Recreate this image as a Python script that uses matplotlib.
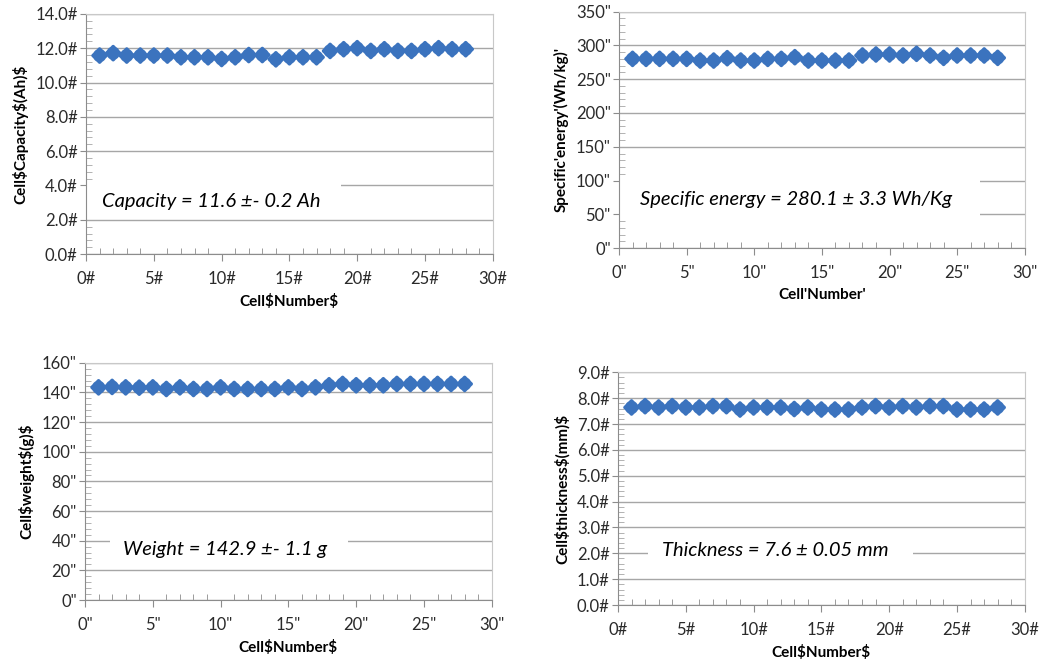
import numpy as np
import matplotlib.pyplot as plt
import matplotlib.patheffects as pe
from matplotlib.patches import Rectangle
from matplotlib.ticker import MultipleLocator, AutoMinorLocator

plt.rcParams['font.family'] = ['Lato', 'DejaVu Sans']

cells = list(range(1, 29))

capacity = [11.57, 11.71, 11.57, 11.57, 11.57, 11.57, 11.47, 11.47, 11.47, 11.37,
            11.47, 11.6, 11.6, 11.35, 11.47, 11.47, 11.47, 11.84, 11.94, 12.0,
            11.84, 11.94, 11.84, 11.84, 11.94, 12.0, 11.94, 11.94]
energy = [280, 280, 280, 280, 280, 277.5, 277.5, 281, 277.5, 277.5,
          280, 280, 282.5, 277.5, 277.5, 277.5, 277.5, 285, 286.5, 286.5,
          285, 287.5, 285, 281.5, 285, 285, 285, 281.5]
weight = [143.4, 143.7, 143.4, 143.2, 143.4, 142.3, 143.4, 142.3, 142.3, 143.4,
          142.3, 142.3, 142.3, 142.3, 143.4, 142.3, 143.4, 144.8, 145.7, 144.8,
          144.8, 144.8, 145.7, 145.7, 145.7, 145.7, 145.7, 145.7]
thickness = [7.64, 7.69, 7.64, 7.69, 7.64, 7.64, 7.69, 7.69, 7.56, 7.64,
             7.64, 7.64, 7.58, 7.64, 7.56, 7.56, 7.56, 7.64, 7.69, 7.64,
             7.69, 7.64, 7.69, 7.69, 7.56, 7.56, 7.56, 7.64]

panels = [
    dict(rect=[0.0825, 0.615, 0.390, 0.364], y=capacity, ymax=14, ystep=2, yfmt='{:.1f}#', xfmt='{}#',
         ylabel='Cell\\$Capacity\\$(Ah)\\$', xlabel='Cell\\$Number\\$',
         note='Capacity = 11.6 ±- 0.2 Ah', note_xy=(0.039, 0.221), box=(0.0, 0.167, 0.627, 0.133)),
    dict(rect=[0.5935, 0.624, 0.389, 0.3585], y=energy, ymax=350, ystep=50, yfmt='{:d}"', xfmt='{}"',
         ylabel="Specific'energy'(Wh/kg)'", xlabel="Cell'Number'",
         note='Specific energy = 280.1 ± 3.3 Wh/Kg', note_xy=(0.052, 0.204), box=(0.0, 0.12, 0.889, 0.19)),
    dict(rect=[0.0815, 0.0909, 0.390, 0.3595], y=weight, ymax=160, ystep=20, yfmt='{:d}"', xfmt='{}"',
         ylabel='Cell\\$weight\\$(g)\\$', xlabel='Cell\\$Number\\$',
         note='Weight = 142.9 ±- 1.1 g', note_xy=(0.093, 0.211), box=(0.061, 0.156, 0.585, 0.118)),
    dict(rect=[0.5925, 0.0833, 0.390, 0.3526], y=thickness, ymax=9, ystep=1, yfmt='{:.1f}#', xfmt='{}#',
         ylabel='Cell\\$thickness\\$(mm)\\$', xlabel='Cell\\$Number\\$',
         note='Thickness = 7.6 ± 0.05 mm', note_xy=(0.107, 0.236), box=(0.074, 0.159, 0.652, 0.129)),
]

# rounded diamond marker, like the Excel glow diamond
ang = np.linspace(0, 2 * np.pi, 73)
rad = 0.8 + 0.2 * np.abs(np.cos(2 * ang)) ** 6
blob = np.column_stack([rad * np.sin(ang), rad * np.cos(ang)])

fig = plt.figure(figsize=(10.43, 6.6), dpi=100)

for p in panels:
    ax = fig.add_axes(p['rect'])
    ax.plot(cells, p['y'], linestyle='none', marker=blob, markersize=12,
            color='#3b73be', markeredgewidth=0, zorder=5,
            path_effects=[pe.SimpleLineShadow(offset=(0, -1.5), shadow_color='#7f8fa6', alpha=0.35),
                          pe.Normal()])
    ax.set_xlim(0, 30)
    ax.set_ylim(0, p['ymax'])

    yt = [i * p['ystep'] for i in range(int(round(p['ymax'] / p['ystep'])) + 1)]
    ax.set_yticks(yt)
    ax.set_yticklabels([p['yfmt'].format(v) for v in yt])
    xt = list(range(0, 31, 5))
    ax.set_xticks(xt)
    ax.set_xticklabels([p['xfmt'].format(v) for v in xt])
    ax.xaxis.set_minor_locator(MultipleLocator(1))
    ax.yaxis.set_minor_locator(AutoMinorLocator(5))

    ax.grid(axis='y', color='#a6a6a6', linewidth=1.0, zorder=0)
    ax.set_axisbelow(True)
    for s in ['top', 'right']:
        ax.spines[s].set_color('#c8c8c8')
    for s in ['left', 'bottom']:
        ax.spines[s].set_color('#8c8c8c')

    ax.tick_params(axis='both', which='major', labelsize=12, colors='#8c8c8c', labelcolor='#2a2a2a')
    ax.tick_params(axis='x', which='major', direction='out', length=5, pad=7)
    ax.tick_params(axis='x', which='minor', direction='in', length=4, colors='#8c8c8c')
    ax.tick_params(axis='y', which='major', direction='out', length=4, pad=2)
    ax.tick_params(axis='y', which='minor', direction='in', length=4, colors='#a6a6a6')

    ax.set_xlabel(p['xlabel'], fontsize=11, fontweight='bold', labelpad=5)
    ax.set_ylabel(p['ylabel'], fontsize=11, fontweight='bold', labelpad=5)

    bx, by, bw, bh = p['box']
    ax.add_patch(Rectangle((bx, by), bw, bh, transform=ax.transAxes,
                           facecolor='white', edgecolor='none', zorder=2))
    ax.text(p['note_xy'][0], p['note_xy'][1], p['note'], transform=ax.transAxes,
            fontsize=14.5, fontstyle='italic', ha='left', va='center', zorder=3)

fig.savefig('out.png', dpi=100)
